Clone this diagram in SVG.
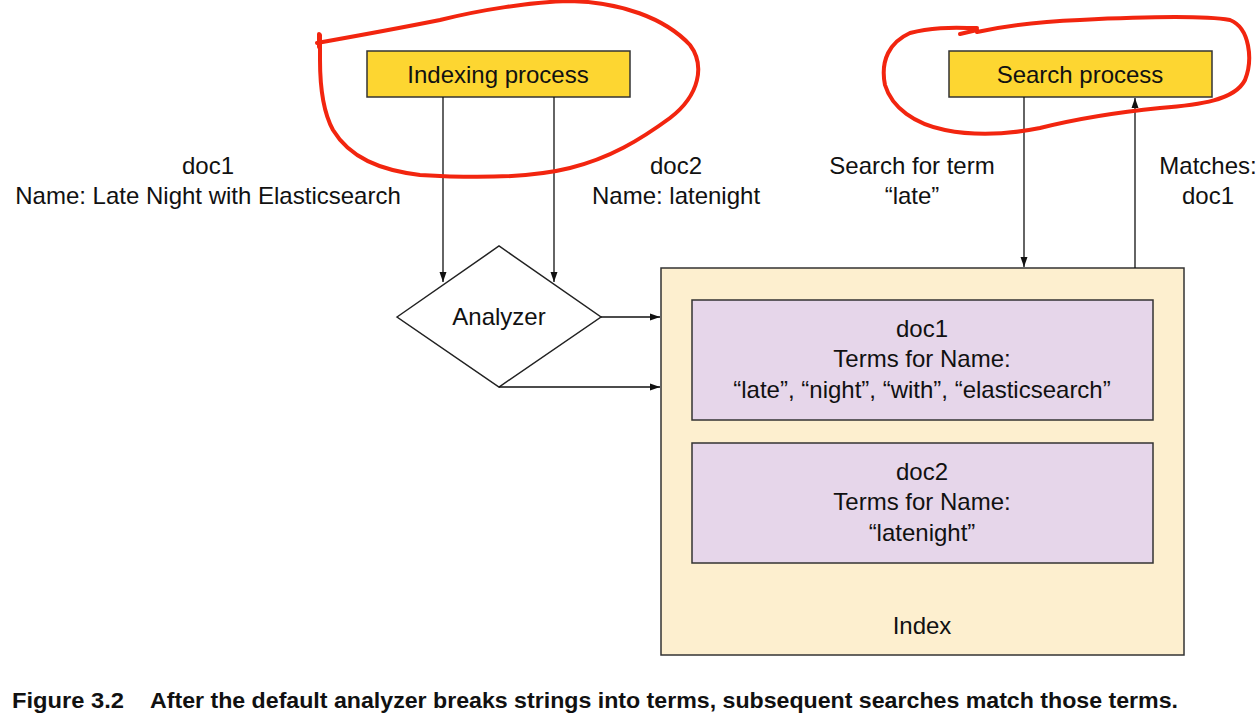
<svg xmlns="http://www.w3.org/2000/svg" width="1258" height="728" viewBox="0 0 1258 728">
<style>
text{font-family:"Liberation Sans",Arial,sans-serif;font-size:24px;fill:#111;text-anchor:middle}
.proc{fill:#fdd631;stroke:#333;stroke-width:1.5}
.term{fill:#e6d6ea;stroke:#333;stroke-width:1.5}
.idx{fill:#fdefcf;stroke:#333;stroke-width:1.5}
.dia{fill:#fff;stroke:#222;stroke-width:1.5}
.conn{fill:none;stroke:#111;stroke-width:1.3;marker-end:url(#ah)}
.red{fill:none;stroke:#f2250f;stroke-width:4;stroke-linecap:round;stroke-linejoin:round}
.cap{font-family:"Liberation Sans Narrow","Liberation Sans",Arial,sans-serif;font-weight:bold;font-size:22px;text-anchor:start}
</style>
<defs>
<marker id="ah" viewBox="0 0 10 10" refX="10" refY="5" markerWidth="10" markerHeight="10" markerUnits="userSpaceOnUse" orient="auto">
<path d="M0,1.5 L10,5 L0,8.5 Z" fill="#111"/>
</marker>
</defs>
<rect width="1258" height="728" fill="#fff"/>
<g id="index">
<rect class="idx" x="661" y="268" width="523" height="387"/>
<text x="922" y="634">Index</text>
</g>
<g id="doc1-terms">
<rect class="term" x="692" y="300" width="461" height="120"/>
<text x="922" y="337">doc1</text>
<text x="922" y="367">Terms for Name:</text>
<text x="922" y="398">“late”, “night”, “with”, “elasticsearch”</text>
</g>
<g id="doc2-terms">
<rect class="term" x="692" y="443" width="461" height="120"/>
<text x="922" y="480">doc2</text>
<text x="922" y="510">Terms for Name:</text>
<text x="922" y="541">“latenight”</text>
</g>
<g id="indexing-process">
<rect class="proc" x="367" y="51" width="263" height="46"/>
<text x="498" y="83">Indexing process</text>
</g>
<g id="search-process">
<rect class="proc" x="949" y="51" width="263" height="46"/>
<text x="1080" y="83">Search process</text>
</g>
<g id="analyzer">
<polygon class="dia" points="397,317 499,246 601,317 499,387"/>
<text x="499" y="325">Analyzer</text>
</g>
<g id="connectors">
<line class="conn" x1="443" y1="97" x2="443" y2="282"/>
<line class="conn" x1="554" y1="97" x2="554" y2="282"/>
<line class="conn" x1="601" y1="317" x2="660" y2="317"/>
<line class="conn" x1="499" y1="387" x2="660" y2="387"/>
<line class="conn" x1="1024" y1="97" x2="1024" y2="267"/>
<line class="conn" x1="1135" y1="268" x2="1135" y2="98"/>
</g>
<g id="labels">
<text x="208" y="174">doc1</text>
<text x="208" y="204">Name: Late Night with Elasticsearch</text>
<text x="676" y="174">doc2</text>
<text x="676" y="204">Name: latenight</text>
<text x="912" y="174">Search for term</text>
<text x="912" y="204">“late”</text>
<text x="1208" y="174">Matches:</text>
<text x="1208" y="204">doc1</text>
</g>
<g id="annotations">
<path class="red" d="M319,34 L319,47"/>
<path class="red" d="M317,43 C345,38 400,28 440,20 C480,10 530,2 570,1 C620,2 665,18 690,45 C705,65 700,95 670,118 C640,140 610,158 570,168 C530,178 470,178 420,175 C380,170 350,158 333,130 C322,110 320,85 320,60 L320,35"/>
<path class="red" d="M960,34 L977,30"/>
<path class="red" d="M977,32 C1000,27 1030,22 1080,20 C1140,17 1200,15 1230,20 C1250,28 1253,60 1245,80 C1235,100 1200,105 1160,108 C1120,112 1080,118 1040,128 C1010,134 975,136 945,130 C915,124 892,108 885,85 C880,60 890,42 910,33 C935,26 960,28 977,28"/>
</g>
<g id="caption">
<text class="cap" x="12" y="708" textLength="112" lengthAdjust="spacingAndGlyphs">Figure 3.2</text>
<text class="cap" x="150" y="708" textLength="1028" lengthAdjust="spacingAndGlyphs">After the default analyzer breaks strings into terms, subsequent searches match those terms.</text>
</g>
</svg>
